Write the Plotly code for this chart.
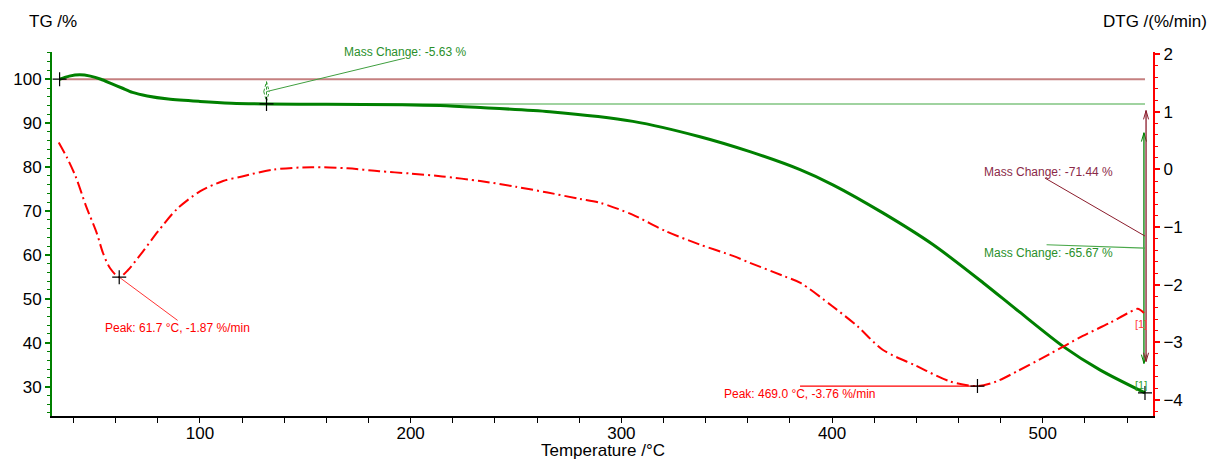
import plotly.graph_objects as go

# ---- TG curve (mass, %) ----
tg_temp = [33.4, 38, 43, 48, 53, 58, 63, 68, 75, 85, 100, 115, 131.6, 160, 196, 214,
           231, 266, 305.5, 337.3, 361, 384.8, 400.6, 424.3, 448, 471.8, 487.6, 509.8,
           527.1, 548.5]
tg_mass = [100.0, 100.7, 101.0, 100.7, 100.0, 99.0, 98.0, 97.0, 96.2, 95.5, 94.95, 94.55,
           94.37, 94.3, 94.2, 94.0, 93.6, 92.6, 90.4, 86.9, 83.5, 79.4, 75.9, 69.5, 62.3,
           53.6, 47.5, 39.1, 33.8, 28.56]

# ---- DTG curve (%/min) ----
dtg_temp = [33, 37, 41, 46, 51, 54, 57.3, 61.7, 66, 73, 80, 89, 100, 111, 120, 135, 153,
            170, 185, 200, 215, 233, 250, 265, 280, 290, 305, 321, 337, 353, 361, 377,
            385, 400, 412, 424, 440, 456, 469, 478, 488, 503, 519, 532, 540, 545, 548]
dtg_rate = [0.47, 0.20, -0.12, -0.64, -1.10, -1.45, -1.71, -1.87, -1.74, -1.42, -1.08,
            -0.69, -0.38, -0.20, -0.12, 0.00, 0.04, 0.02, -0.03, -0.07, -0.12, -0.20,
            -0.30, -0.40, -0.51, -0.58, -0.78, -1.07, -1.30, -1.50, -1.62, -1.85, -1.97,
            -2.37, -2.72, -3.13, -3.41, -3.68, -3.76, -3.68, -3.50, -3.21, -2.89, -2.66,
            -2.50, -2.42, -2.49]

# ---- evaluation results ----
step1_temp = 131.6
step1_change = -5.63          # %
total_change = -71.44         # %
step2_change = -65.67         # %
peak1 = (61.7, -1.87)         # °C, %/min
peak2 = (469.0, -3.76)

x_ticks = [100, 200, 300, 400, 500]
tg_ticks = [30, 40, 50, 60, 70, 80, 90, 100]
dtg_ticks = [-4, -3, -2, -1, 0, 1, 2]

GREEN = "#008000"
RED = "#ff0000"
MAROON = "#8b1c2c"
FONT = "Arial, Liberation Sans, sans-serif"

t_start, t_end = tg_temp[0], tg_temp[-1]
m_start = 100.0
m_step1 = m_start + step1_change
m_end = m_start + total_change
m_end2 = m_step1 + step2_change

fig = go.Figure()

# reference levels
fig.add_trace(go.Scatter(x=[t_start, t_end], y=[m_start, m_start], mode="lines",
                         line=dict(color="#c58080", width=2), hoverinfo="skip"))
fig.add_trace(go.Scatter(x=[step1_temp, t_end], y=[m_step1, m_step1], mode="lines",
                         line=dict(color="#80c480", width=1.5), hoverinfo="skip"))

# curves
fig.add_trace(go.Scatter(x=dtg_temp, y=dtg_rate, yaxis="y2", mode="lines",
                         line=dict(color=RED, width=2, dash="12px,4px,2px,4px",
                                   shape="spline", smoothing=0.8)))
fig.add_trace(go.Scatter(x=tg_temp, y=tg_mass, mode="lines",
                         line=dict(color=GREEN, width=3, shape="spline", smoothing=0.8)))


def double_arrow(x, top, bottom, color, dx, h, dash="solid", width=1.2):
    fig.add_trace(go.Scatter(x=[x, x], y=[top, bottom], mode="lines",
                             line=dict(color=color, width=width, dash=dash), hoverinfo="skip"))
    fig.add_trace(go.Scatter(x=[x - dx, x, x + dx, None, x - dx, x, x + dx],
                             y=[top - h, top, top - h, None, bottom + h, bottom, bottom + h],
                             mode="lines", line=dict(color=color, width=1, dash=dash),
                             hoverinfo="skip"))


def span(a, b):
    c = (a + b) / 2
    half = 0.8 * abs(a - b) / 2
    return c, c + half, c - half


# step 1 arrow + leader
c1, a1, b1 = span(m_start, m_step1)
double_arrow(step1_temp, a1, b1, "#2f9a2f", 1.3, (a1 - b1) / 2, dash="3px,2px", width=1)
fig.add_trace(go.Scatter(x=[step1_temp, 197.3], y=[c1, 104.8], mode="lines",
                         line=dict(color="#3f9f3f", width=1), hoverinfo="skip"))

# total and step 2 arrows + leaders (drawn side by side)
ct, at, bt = span(m_start, m_end)
c2, a2, b2 = span(m_step1, m_end2)
double_arrow(t_end - 0.5, a2, b2, GREEN, 1.2, 2.0, width=1.3)
double_arrow(t_end + 0.5, at, bt, MAROON, 1.2, 2.0, width=1.3)
fig.add_trace(go.Scatter(x=[t_end, 501.0], y=[ct, 77.5], mode="lines",
                         line=dict(color=MAROON, width=1), hoverinfo="skip"))
fig.add_trace(go.Scatter(x=[t_end, 501.8], y=[c2, 62.3], mode="lines",
                         line=dict(color="#4aa84a", width=1.2), hoverinfo="skip"))

# peak leaders
fig.add_trace(go.Scatter(x=[peak1[0], 89.4], y=[peak1[1], -2.62], yaxis="y2", mode="lines",
                         line=dict(color=RED, width=0.8), hoverinfo="skip"))
fig.add_trace(go.Scatter(x=[384.8, peak2[0]], y=[peak2[1], peak2[1]], yaxis="y2",
                         mode="lines", line=dict(color=RED, width=1.2), hoverinfo="skip"))

# cross markers
cross = dict(symbol="cross-thin", size=10, line=dict(color="black", width=1.2))
fig.add_trace(go.Scatter(x=[t_start, step1_temp, t_end], y=[m_start, m_step1, m_end],
                         mode="markers", marker=cross, hoverinfo="skip"))
fig.add_trace(go.Scatter(x=[peak1[0], peak2[0]], y=[peak1[1], peak2[1]], yaxis="y2",
                         mode="markers", marker=cross, hoverinfo="skip"))

small = dict(family=FONT, size=12)
annotations = [
    dict(x=0.2643, y=1.0008, xref="paper", yref="paper",
         text=f"Mass Change: {step1_change:.2f} %", font=dict(small, color="#2a8f2a")),
    dict(x=471.6, y=78.8, xref="x", yref="y", text=f"Mass Change: {total_change:.2f} %",
         font=dict(small, color="#8b2a48")),
    dict(x=471.6, y=60.5, xref="x", yref="y", text=f"Mass Change: {step2_change:.2f} %",
         font=dict(small, color="#2a8f2a")),
    dict(x=54.4, y=-2.75, xref="x", yref="y2",
         text=f"Peak: {peak1[0]:.1f} °C, {peak1[1]:.2f} %/min", font=dict(small, color=RED)),
    dict(x=348.2, y=-3.89, xref="x", yref="y2",
         text=f"Peak: {peak2[0]:.1f} °C, {peak2[1]:.2f} %/min", font=dict(small, color=RED)),
    dict(x=543.2, y=-2.68, xref="x", yref="y2", text="[1]",
         font=dict(family=FONT, size=11, color="#ff4040")),
    dict(x=543.4, y=-3.75, xref="x", yref="y2", text="[1]",
         font=dict(family=FONT, size=11, color="#30a030")),
    dict(x=-0.0218, y=1.083, xref="paper", yref="paper", text="TG /%",
         font=dict(family=FONT, size=17, color="black")),
    dict(x=0.9534, y=1.083, xref="paper", yref="paper", text="DTG /(%/min)",
         font=dict(family=FONT, size=17, color="black")),
]
for a in annotations:
    a.update(showarrow=False, xanchor="left", yanchor="middle", borderpad=0)
annotations.append(dict(x=0.5, y=-0.096, xref="paper", yref="paper", text="Temperature /°C",
                        showarrow=False, xanchor="center", yanchor="middle",
                        font=dict(family=FONT, size=17, color="black")))

tick_font = dict(family=FONT, size=17, color="black")
fig.update_layout(
    width=1208, height=461,
    margin=dict(l=52, r=55, t=52, b=45),
    paper_bgcolor="white", plot_bgcolor="white",
    showlegend=False,
    font=dict(family=FONT, size=15, color="black"),
    annotations=annotations,
    xaxis=dict(range=[29.8, 552.3], tickvals=x_ticks, showgrid=False, zeroline=False,
               showline=True, linecolor="black", linewidth=2,
               ticks="outside", ticklen=5, tickcolor="black", tickwidth=1,
               ticklabelstandoff=-4,
               minor=dict(dtick=20, tick0=0, ticks="outside", ticklen=5,
                          tickcolor="black", tickwidth=1, showgrid=False),
               tickfont=tick_font),
    yaxis=dict(range=[23.3, 106.2], tickvals=tg_ticks, showgrid=False, zeroline=False,
               showline=True, linecolor=GREEN, linewidth=2,
               ticks="outside", ticklen=5, tickcolor=GREEN, tickwidth=1.5,
               minor=dict(dtick=2, tick0=0, ticks="outside", ticklen=3,
                          tickcolor=GREEN, tickwidth=1, showgrid=False),
               tickfont=tick_font),
    yaxis2=dict(range=[-4.28, 2.04], tickvals=dtg_ticks, overlaying="y", side="right",
                showgrid=False, zeroline=False,
                showline=True, linecolor=RED, linewidth=2,
                ticks="outside", ticklen=5, tickcolor=RED, tickwidth=1.5,
                minor=dict(dtick=0.2, tick0=0, ticks="outside", ticklen=3,
                           tickcolor=RED, tickwidth=1, showgrid=False),
                tickfont=tick_font),
)

fig.write_html("out.html")
